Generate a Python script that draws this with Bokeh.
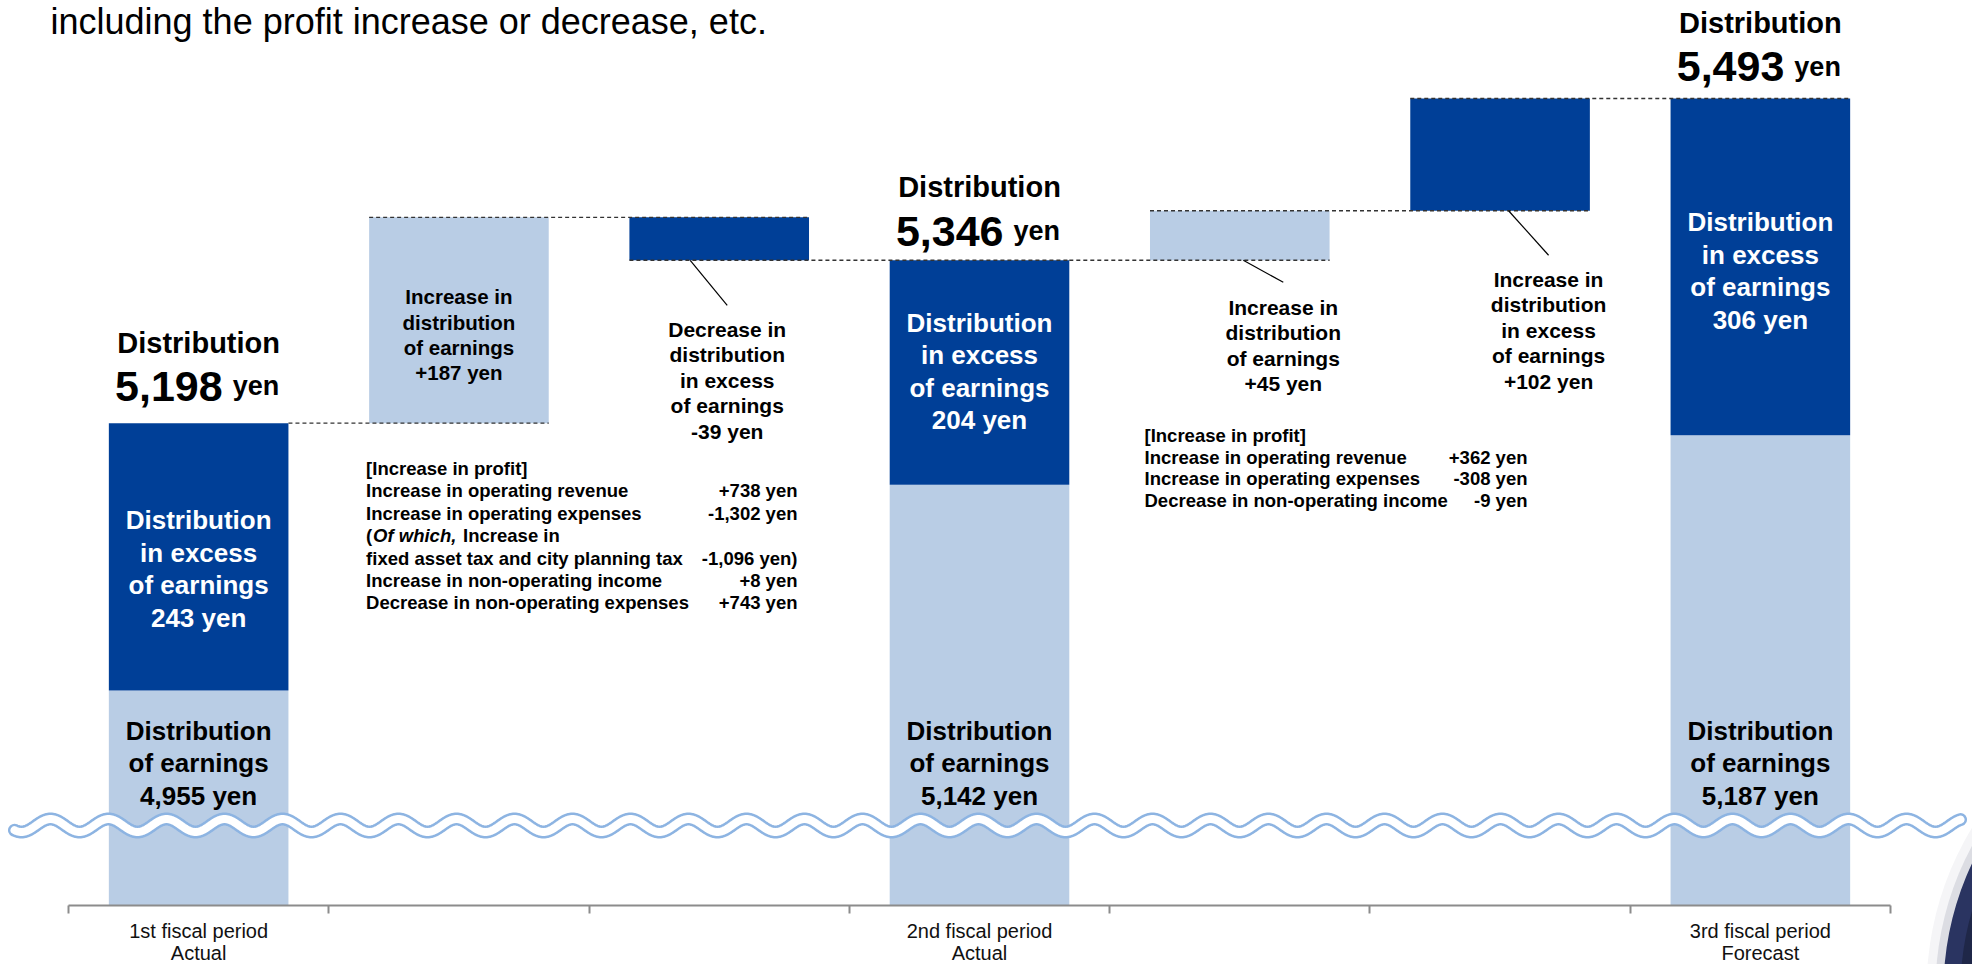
import math
from bokeh.plotting import figure
from bokeh.models import Range1d, LinearAxis, FixedTicker
from bokeh.core.properties import value
from bokeh.embed import file_html
from bokeh.resources import INLINE

# ---------------- data ----------------
n_slots = 7
period_slots = [0, 3, 6]
period_labels = ["1st fiscal period\nActual", "2nd fiscal period\nActual", "3rd fiscal period\nForecast"]
earnings = [4955, 5142, 5187]          # distribution of earnings (yen)
excess = [243, 204, 306]               # distribution in excess of earnings (yen)
totals = [5198, 5346, 5493]            # total distribution (yen)
step_slots = [1, 2, 4, 5]
step_values = [187, -39, 45, 102]
step_kinds = ["earnings", "excess", "earnings", "excess"]

title_text = "including the profit increase or decrease, etc."
block1_items = ["[Increase in profit]", "Increase in operating revenue", "Increase in operating expenses",
                "(Of which, Increase in", "fixed asset tax and city planning tax",
                "Increase in non-operating income", "Decrease in non-operating expenses"]
block1_amounts = ["", "+738 yen", "-1,302 yen", "", "-1,096 yen)", "+8 yen", "+743 yen"]
block2_items = ["[Increase in profit]", "Increase in operating revenue", "Increase in operating expenses",
                "Decrease in non-operating income"]
block2_amounts = ["", "+362 yen", "-308 yen", "-9 yen"]

# ---------------- layout ----------------
W, H = 1972, 964
AX_L, AX_R = 68.0, 1890.0
SX = (AX_R - AX_L) / n_slots
TOP_VAL = 5582.1
SY = 1.1003
AXIS_PY = 905.0

def px2x(px):
    return (px - AX_L) / SX

def px2y(py):
    return TOP_VAL - py / SY

def val2py(v):
    return (TOP_VAL - v) * SY

def slot_cx(s):
    return AX_L + (s + 0.5) * SX

BASE = px2y(AXIS_PY)
DARK = "#003F97"
LIGHT = "#B9CDE5"
WAVE = "#8DB4E2"
FONT = "Liberation Sans"
BW = 0.69

p = figure(width=W, height=H, x_range=Range1d(px2x(0), px2x(W)), y_range=Range1d(px2y(H), px2y(0)),
           min_border=0, toolbar_location=None, output_backend="svg",
           x_axis_location=None, y_axis_location=None)
p.outline_line_color = None
p.background_fill_color = "white"
p.border_fill_color = "white"
p.grid.visible = False


def put(xp, yp, texts, size, color="#000000", style="bold", align="center", baseline="middle"):
    p.text(x=[px2x(v) for v in xp], y=[px2y(v) for v in yp], text=texts,
           text_font=value(FONT), text_font_size=f"{size}px", text_font_style=style,
           text_color=color, text_align=align, text_baseline=baseline)


def put_lines(cx, first_py, spacing, lines, size, color="#000000", align="center"):
    put([cx] * len(lines), [first_py + i * spacing for i in range(len(lines))], lines, size, color, "bold", align)

# ---------------- waterfall geometry ----------------
seq = []
levels_after = []
level = 0
for s in range(n_slots):
    if s in period_slots:
        k = period_slots.index(s)
        level = totals[k]
        seq.append(("total", k, None, None))
    else:
        k = step_slots.index(s)
        b = level
        level = level + step_values[k]
        seq.append(("step", k, b, level))
    levels_after.append(level)

# totals: light lower part + dark upper part
tx = [s + 0.5 for s in period_slots]
p.vbar(x=tx, width=BW, bottom=BASE, top=earnings, fill_color=LIGHT, line_color=None)
p.vbar(x=tx, width=BW, bottom=earnings, top=totals, fill_color=DARK, line_color=None)

# steps
sx_, sb, st, sc = [], [], [], []
for s, item in enumerate(seq):
    if item[0] == "step":
        _, k, b, t = item
        sx_.append(s + 0.5)
        sb.append(min(b, t))
        st.append(max(b, t))
        sc.append(LIGHT if step_kinds[k] == "earnings" else DARK)
p.vbar(x=sx_, width=BW, bottom=sb, top=st, fill_color=sc, line_color=None)

# dashed connectors
cx0, cx1, cy = [], [], []
for s in range(n_slots - 1):
    x0 = s + 0.5 + (BW / 2 if seq[s][0] == "total" else -BW / 2)
    cx0.append(x0)
    cx1.append(s + 1.5 + BW / 2)
    cy.append(levels_after[s])
p.segment(x0=cx0, y0=cy, x1=cx1, y1=cy, line_color="#333333", line_width=1.4, line_dash="4 3")

# ---------------- wave (axis break) ----------------
wx = list(range(14, 1961))
wy = [825 - 6.5 * math.cos(2 * math.pi * (x - 50) / 58.0) for x in wx]
p.line([px2x(v) for v in wx], [px2y(v) for v in wy], line_color=WAVE, line_width=13, line_cap="round")
p.line([px2x(v) for v in wx], [px2y(v) for v in wy], line_color="white", line_width=8, line_cap="round")

# ---------------- corner decoration ----------------
for r, c in [(314, "#f5f5f7"), (305, "#dcdde3"), (297, "#2a3461"), (280, "#1f2748")]:
    p.circle(x=[px2x(2240)], y=[px2y(990)], radius=r, radius_units="screen", fill_color=c, line_color=None)

# ---------------- axes ----------------
ax = LinearAxis(fixed_location=BASE, bounds=(0, n_slots), ticker=FixedTicker(ticks=list(range(n_slots + 1))),
                axis_line_color="#8c8c8c", axis_line_width=2, major_tick_line_color="#8c8c8c",
                major_tick_line_width=2, major_tick_in=0, major_tick_out=8, minor_tick_line_color=None,
                major_label_text_font_size="0px", major_label_text_alpha=0)
p.add_layout(ax, "below")
lab_ticks = [s + 0.5 for s in period_slots]
ax2 = LinearAxis(fixed_location=BASE, ticker=FixedTicker(ticks=lab_ticks),
                 major_label_overrides={t: l for t, l in zip(lab_ticks, period_labels)},
                 axis_line_color=None, major_tick_line_color=None, minor_tick_line_color=None,
                 major_tick_in=0, major_tick_out=0, major_label_standoff=14,
                 major_label_text_font=FONT, major_label_text_font_size="20px",
                 major_label_text_color="#111111", major_label_text_line_height=1.0)
p.add_layout(ax2, "below")

# ---------------- texts ----------------
put([50], [21], [title_text], 36, style="normal", align="left", baseline="alphabetic")

dist_off = [-80, -73, -76]
num_off = [-37, -29, -32]
dark_off = [12, -1, 4]
for k, s in enumerate(period_slots):
    cx = slot_cx(s)
    ty = val2py(totals[k])
    put([cx], [ty + dist_off[k]], ["Distribution"], 29)
    put([cx + 24], [ty + num_off[k]], [f"{totals[k]:,}"], 43, align="right", baseline="alphabetic")
    put([cx + 34], [ty + num_off[k]], ["yen"], 27, align="left", baseline="alphabetic")
    mid = (val2py(totals[k]) + val2py(earnings[k])) / 2 + dark_off[k]
    dl = ["Distribution", "in excess", "of earnings", f"{excess[k]} yen"]
    put_lines(cx, mid - 1.5 * 32.5, 32.5, dl, 26, color="white")
    ll = ["Distribution", "of earnings", f"{earnings[k]:,} yen"]
    put_lines(cx, 730, 32.5, ll, 26)

step_style = [
    {"mode": "inside", "dy": 14.5},
    {"mode": "callout", "dx0": -29, "dx1": 8, "dy": 45, "gap": 24},
    {"mode": "callout", "dx0": 3.5, "dx1": 43.5, "dy": 22, "gap": 25},
    {"mode": "callout", "dx0": 8.5, "dx1": 48.5, "dy": 44.5, "gap": 24},
]
lx0, ly0, lx1, ly1 = [], [], [], []
for k, s in enumerate(step_slots):
    v = step_values[k]
    lines = ["Increase in" if v > 0 else "Decrease in", "distribution"]
    lines += ["of earnings"] if step_kinds[k] == "earnings" else ["in excess", "of earnings"]
    lines.append(f"{v:+d} yen")
    b = levels_after[s] - v
    t = levels_after[s]
    cx = slot_cx(s)
    stl = step_style[k]
    if stl["mode"] == "inside":
        mid = (val2py(b) + val2py(t)) / 2 + stl["dy"]
        n = len(lines)
        put_lines(cx, mid - (n - 1) / 2 * 25.3, 25.3, lines, 20.5)
    else:
        edge = val2py(min(b, t))
        lx0.append(px2x(cx + stl["dx0"])); ly0.append(px2y(edge))
        lx1.append(px2x(cx + stl["dx1"])); ly1.append(px2y(edge + stl["dy"]))
        put_lines(cx + stl["dx1"], edge + stl["dy"] + stl["gap"], 25.5, lines, 21)
p.segment(x0=lx0, y0=ly0, x1=lx1, y1=ly1, line_color="#000000", line_width=1.2)

# info block 1
B1_L, B1_R, B1_Y, B1_S = 365.6, 797.0, 468.0, 22.4
for i, (it, am) in enumerate(zip(block1_items, block1_amounts)):
    y = B1_Y + i * B1_S
    if it.startswith("(Of which,"):
        put([B1_L], [y], ["("], 18.5, align="left")
        put([B1_L + 7], [y], ["Of which,"], 18.5, style="bold italic", align="left")
        put([B1_L + 97], [y], [it[len("(Of which, "):]], 18.5, align="left")
    else:
        put([B1_L], [y], [it], 18.5, align="left")
    if am:
        put([B1_R], [y], [am], 18.5, align="right")

# info block 2
B2_L, B2_R, B2_Y, B2_S = 1144.0, 1527.0, 435.0, 21.7
for i, (it, am) in enumerate(zip(block2_items, block2_amounts)):
    y = B2_Y + i * B2_S
    put([B2_L], [y], [it], 18.5, align="left")
    if am:
        put([B2_R], [y], [am], 18.5, align="right")

open("out.html", "w").write(file_html(p, INLINE))
